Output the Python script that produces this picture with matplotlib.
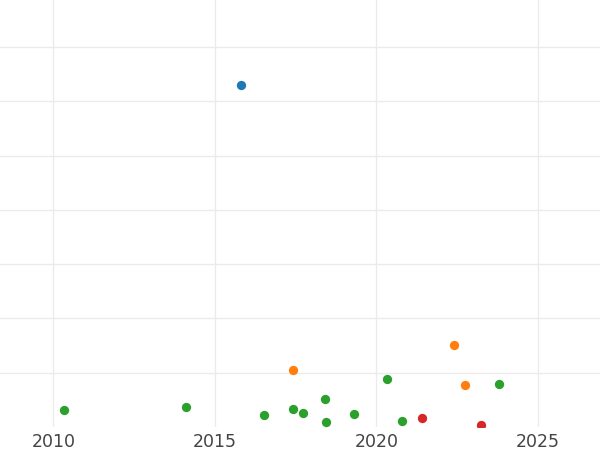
import matplotlib
matplotlib.use("Agg")
import matplotlib.pyplot as plt

blue_x = [2015.81]
blue_y = [6.29]
orange_x = [2017.41, 2022.40, 2022.73]
orange_y = [1.05, 1.505, 0.768]
green_x = [2010.33, 2014.11, 2016.51, 2017.41, 2017.72, 2018.41, 2018.45, 2019.31, 2020.32, 2020.78, 2023.80]
green_y = [0.319, 0.374, 0.221, 0.331, 0.252, 0.516, 0.087, 0.239, 0.884, 0.116, 0.797]
red_x = [2021.41, 2023.23]
red_y = [0.171, 0.046]
xticks = [2010, 2015, 2020, 2025]
yticks = [1, 2, 3, 4, 5, 6, 7]

fig = plt.figure(figsize=(6, 4.5), dpi=100)
ax = fig.add_axes([0, 1 - 427 / 450, 1, 427 / 450])

for xs, ys, c in [(blue_x, blue_y, "#1f77b4"), (orange_x, orange_y, "#ff7f0e"),
                  (green_x, green_y, "#2ca02c"), (red_x, red_y, "#d62728")]:
    ax.scatter(xs, ys, s=45, color=c, linewidths=0, zorder=3)

ax.set_xlim(2008.344, 2026.92)
ax.set_ylim(0, 7.864)
ax.set_xticks(xticks)
ax.set_xticklabels([str(t) for t in xticks])
ax.set_yticks(yticks)
ax.set_yticklabels([])
ax.tick_params(axis="both", length=0, labelsize=12.5, labelcolor="#444444")
ax.tick_params(axis="x", pad=4)
ax.grid(True, color="#ebebeb", linewidth=1.0)
ax.set_axisbelow(True)
for s in ax.spines.values():
    s.set_visible(False)

fig.savefig("out.png", dpi=100)
